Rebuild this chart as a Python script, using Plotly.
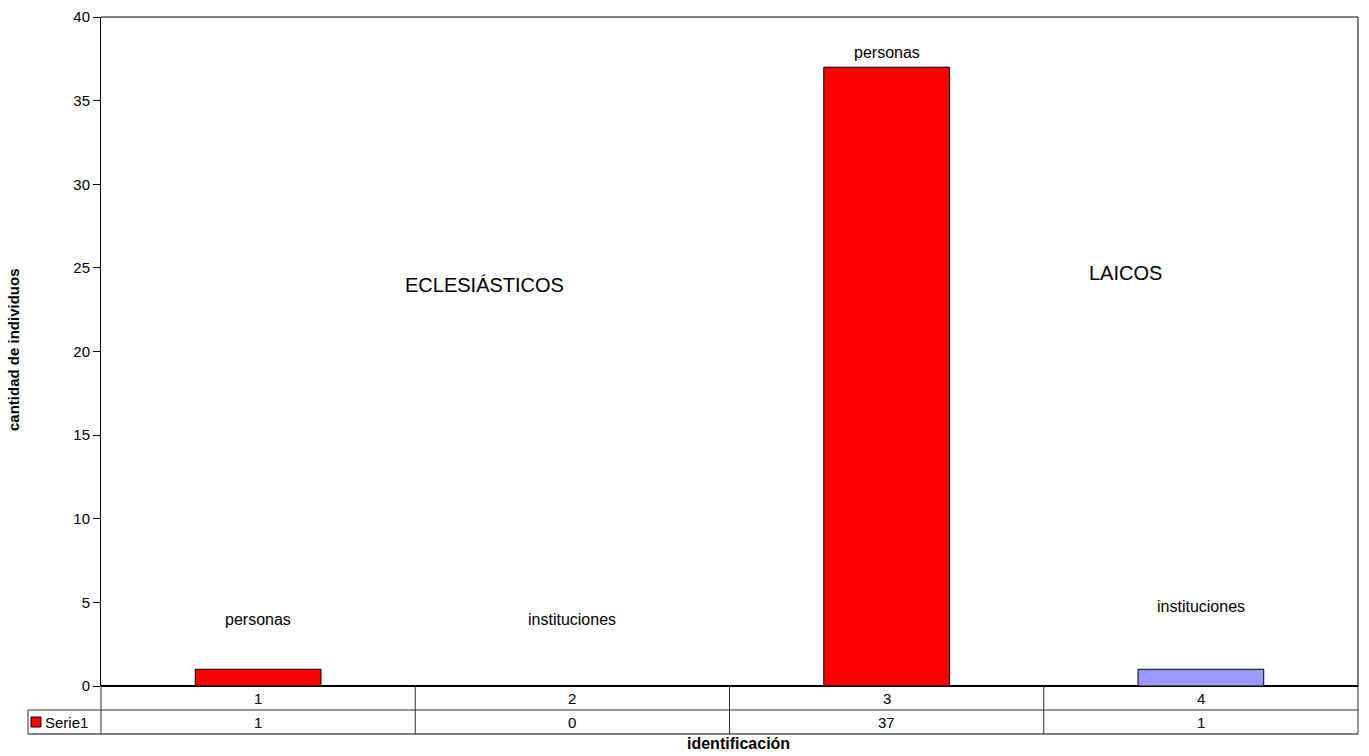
import plotly.graph_objects as go

# Data
categories = ["1", "2", "3", "4"]
values = [1, 0, 37, 1]
bar_colors = ["#FF0000", "#FF0000", "#FF0000", "#9999FF"]
series_name = "Serie1"

# Category labels placed inside the plot
label_texts = ["personas", "instituciones", "personas", "instituciones"]
label_y = [4.0, 4.0, 37.9, 4.75]
group_texts = ["ECLESIÁSTICOS", "LAICOS"]
group_x = [1.72, 3.76]
group_y = [24.0, 24.7]

FONT = "Liberation Sans, Arial, sans-serif"
xpos = [1, 2, 3, 4]

fig = go.Figure()
fig.add_trace(go.Bar(
    x=xpos, y=values, width=0.4,
    marker=dict(color=bar_colors, line=dict(color="#000000", width=1)),
    name=series_name, showlegend=False, hoverinfo="x+y",
))

annotations = []
for xv, t, yv in zip(xpos, label_texts, label_y):
    annotations.append(dict(x=xv, y=yv, text=t, showarrow=False,
                            font=dict(family=FONT, size=16, color="#000"),
                            xref="x", yref="y"))
for t, xv, yv in zip(group_texts, group_x, group_y):
    annotations.append(dict(x=xv, y=yv, text=t, showarrow=False,
                            font=dict(family=FONT, size=20, color="#000"),
                            xref="x", yref="y"))

# Data table below the plot area
plot_h = 756 - 17 - 70
plot_w = 1369 - 101 - 11
row_h = 24 / plot_h
y_row1 = -row_h
y_row2 = -2 * row_h
left_ext = -(101 - 28) / plot_w
grid = "#303030"

shapes = []
# horizontal lines
shapes.append(dict(type="line", xref="paper", yref="paper", x0=left_ext, x1=1, y0=y_row1, y1=y_row1,
                   line=dict(color=grid, width=1)))
shapes.append(dict(type="line", xref="paper", yref="paper", x0=left_ext, x1=1, y0=y_row2, y1=y_row2,
                   line=dict(color="#808080", width=2)))
# vertical lines
shapes.append(dict(type="line", xref="paper", yref="paper", x0=left_ext, x1=left_ext, y0=y_row1, y1=y_row2,
                   line=dict(color=grid, width=1)))
for xv in [0, 1]:
    shapes.append(dict(type="line", xref="paper", yref="paper", x0=xv, x1=xv, y0=0, y1=y_row2,
                       line=dict(color=grid, width=1)))
for xv in [1.5, 2.5, 3.5]:
    shapes.append(dict(type="line", xref="x", yref="paper", x0=xv, x1=xv, y0=0, y1=y_row2,
                       line=dict(color=grid, width=1)))
# plot area border (top and right)
shapes.append(dict(type="line", xref="paper", yref="paper", x0=0, x1=1, y0=1, y1=1,
                   line=dict(color="#000", width=1)))
shapes.append(dict(type="line", xref="paper", yref="paper", x0=1, x1=1, y0=0, y1=1,
                   line=dict(color="#000", width=1)))
# legend key
key_w = 10 / plot_w
key_h = 10 / plot_h
kx0 = -(101 - 31) / plot_w
ky_c = (y_row1 + y_row2) / 2
shapes.append(dict(type="rect", xref="paper", yref="paper",
                   x0=kx0, x1=kx0 + key_w, y0=ky_c - key_h / 2, y1=ky_c + key_h / 2,
                   fillcolor="#FF0000", line=dict(color="#000", width=1)))

for xv, c, v in zip(xpos, categories, values):
    annotations.append(dict(x=xv, y=(0 + y_row1) / 2, text=c, showarrow=False,
                            xref="x", yref="paper", yanchor="middle",
                            font=dict(family=FONT, size=15, color="#000")))
    annotations.append(dict(x=xv, y=(y_row1 + y_row2) / 2, text=str(v), showarrow=False,
                            xref="x", yref="paper", yanchor="middle",
                            font=dict(family=FONT, size=15, color="#000")))
annotations.append(dict(x=kx0 + key_w + 2 / plot_w, y=ky_c, text=series_name, showarrow=False,
                        xref="paper", yref="paper", xanchor="left", yanchor="middle",
                        font=dict(family=FONT, size=15, color="#000")))

# Axis titles
annotations.append(dict(x=(738 - 101) / plot_w, y=-(743 - 686) / plot_h, text="<b>identificación</b>",
                        showarrow=False, xref="paper", yref="paper", yanchor="middle",
                        font=dict(family=FONT, size=16, color="#000")))
annotations.append(dict(x=-(101 - 13) / plot_w, y=(686 - 350) / plot_h, text="<b>cantidad de individuos</b>",
                        showarrow=False, xref="paper", yref="paper", textangle=-90,
                        xanchor="center", yanchor="middle",
                        font=dict(family=FONT, size=15, color="#000")))

fig.update_layout(
    width=1369, height=756,
    margin=dict(l=101, r=11, t=17, b=70, autoexpand=False),
    plot_bgcolor="#FFFFFF", paper_bgcolor="#FFFFFF",
    font=dict(family=FONT, size=15, color="#000"),
    annotations=annotations,
    shapes=shapes,
    xaxis=dict(range=[0.5, 4.5], showticklabels=False, ticks="", showgrid=False,
               zeroline=False, showline=False, automargin=False),
    yaxis=dict(range=[0, 40], dtick=5, ticks="outside", ticklen=7, tickcolor="#000",
               showgrid=False, zeroline=True, zerolinecolor="#000", zerolinewidth=2,
               showline=True, linecolor="#000", linewidth=1, automargin=False,
               tickfont=dict(family=FONT, size=15)),
)

fig.write_html("out.html")
